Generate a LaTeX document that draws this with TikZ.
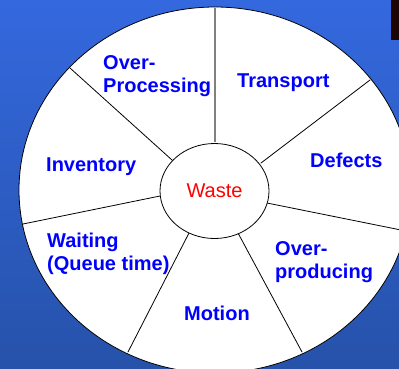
\documentclass[tikz,border=0pt]{standalone}
\usepackage{fontspec}
\setmainfont{Liberation Sans}
\usetikzlibrary{shapes.geometric}
\definecolor{bgtop}{RGB}{52,104,222}
\definecolor{bgmid}{RGB}{44,90,190}
\definecolor{bgbot}{RGB}{38,82,170}
\definecolor{cornerbox}{RGB}{30,5,5}
\definecolor{spokegray}{RGB}{128,128,128}
\tikzset{
  wastetype/.style={text=blue, font=\bfseries\fontsize{20}{23}\selectfont, inner sep=0pt, align=left},
  spoke/.style={black, line width=0.8pt}
}
\begin{document}
\begin{tikzpicture}[x=1pt, y=-1pt, line join=round, line cap=round]
  % 1. Background
  \useasboundingbox (0,0) rectangle (399,368);
  \shade[top color=bgtop, middle color=bgmid, bottom color=bgbot] (0,0) rectangle (399,368);
  \fill[cornerbox] (391,0) rectangle (399,40);

  % 2. Outer wheel
  \coordinate (C) at (215,190);
  \draw[fill=white, line width=0.8pt] (C) ellipse [x radius=196pt, y radius=183pt];

  % 3. Spokes, from the hub out to the rim
  \draw[spokegray, line width=2pt, line cap=butt] (215,142) -- (215,8);
  \draw[spoke] (261,163) -- (370,80);
  \draw[spoke] (267,203) -- (406,231);
  \draw[spoke] (238,233) -- (302,352);
  \draw[spoke] (189,233) -- (128,352);
  \draw[spoke] (160,196) -- (23,224);
  \draw[spoke] (172,160) -- (70,68);

  % 4. Hub
  \node[ellipse, draw, fill=white, line width=0.8pt, minimum width=109pt, minimum height=95pt,
        text=red, font=\fontsize{20}{23}\selectfont] (waste) at (214.5,191) {Waste};

  % 5. The seven wastes (base = baseline of the last line)
  \node[wastetype, anchor=base west] (proc) at (103,92) {Over-\\Processing};
  \node[wastetype, anchor=base west] (transport) at (237,87) {Transport};
  \node[wastetype, anchor=base west] (defects) at (310,167) {Defects};
  \node[wastetype, anchor=base west] (prod) at (275,278) {Over-\\producing};
  \node[wastetype, anchor=base west] (motion) at (184,320) {Motion};
  \node[wastetype, anchor=base west] (waiting) at (47,270) {Waiting\\(Queue time)};
  \node[wastetype, anchor=base west] (inventory) at (46,171) {Inventory};
\end{tikzpicture}
\end{document}
